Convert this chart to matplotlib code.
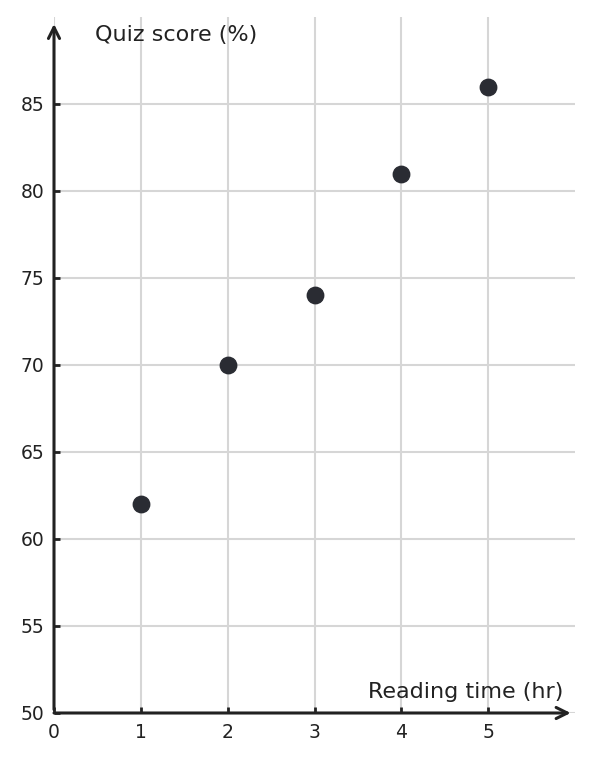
import matplotlib.pyplot as plt

plt.rcParams['font.family'] = ['DejaVu Sans']

hours = [1, 2, 3, 4, 5]
scores = [62, 70, 74, 81, 86]
x_ticks = [0, 1, 2, 3, 4, 5]
y_ticks = [50, 55, 60, 65, 70, 75, 80, 85]

dark = '#222222'

fig = plt.figure(figsize=(5.93, 7.61), dpi=100)
ax = fig.add_axes([54 / 593, 1 - 713 / 761, (575 - 54) / 593, (713 - 17) / 761])
ax.set_xlim(0, 6)
ax.set_ylim(50, 90)

ax.set_xticks(x_ticks)
ax.set_yticks(y_ticks)
ax.grid(True, color='#d6d6d6', linewidth=1.5)
ax.set_axisbelow(True)
for s in ax.spines.values():
    s.set_visible(False)
ax.tick_params(direction='in', length=4, width=2, color=dark, labelsize=13.5,
               labelcolor=dark, pad=7)

# axes drawn as arrows
arrow = dict(arrowstyle='->', lw=2.2, color=dark, mutation_scale=20, shrinkA=0, shrinkB=0)
ax.annotate('', xy=(5.95, 50), xytext=(0, 50), arrowprops=arrow, annotation_clip=False)
ax.annotate('', xy=(0, 89.6), xytext=(0, 50.2), arrowprops=arrow, annotation_clip=False)

ax.scatter(hours, scores, s=140, color='#2a2c33', zorder=3, clip_on=False)

fig.text(95 / 593, 1 - 35 / 761, 'Quiz score (%)', fontsize=16, color=dark,
         ha='left', va='center')
fig.text(563 / 593, 1 - 692 / 761, 'Reading time (hr)', fontsize=16, color=dark,
         ha='right', va='center')

fig.savefig('out.png', dpi=100)
